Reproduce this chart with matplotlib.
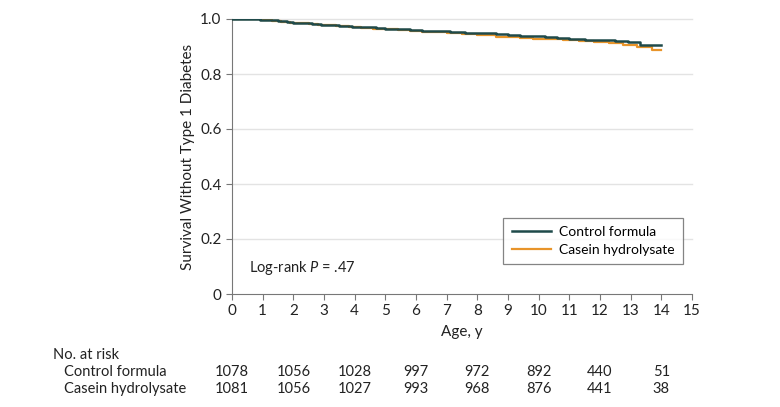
import numpy as np
import matplotlib
matplotlib.use('Agg')
import matplotlib.pyplot as plt

plt.rcParams['font.family'] = ['Lato', 'DejaVu Sans']
plt.rcParams['mathtext.fontset'] = 'custom'
plt.rcParams['mathtext.it'] = 'Lato:italic'
plt.rcParams['mathtext.rm'] = 'Lato'

# Kaplan-Meier step data (age in years, survival)
control_age = [0, 0.9, 1.2, 1.5, 1.8, 2.0, 2.3, 2.6, 2.9, 3.2, 3.5, 3.9, 4.3, 4.7, 5.0, 5.4, 5.8, 6.2, 6.7, 7.1, 7.6, 8.1, 8.6, 9.0,
               9.4, 9.8, 10.2, 10.6, 11.0, 11.5, 12.0, 12.5, 12.9, 13.3, 14.0]
control_surv = [1.0, 0.997, 0.995, 0.992, 0.99, 0.987, 0.985, 0.982, 0.979, 0.977, 0.975, 0.972, 0.970, 0.967, 0.964, 0.962, 0.960,
                0.957, 0.955, 0.952, 0.950, 0.948, 0.946, 0.943, 0.940, 0.937, 0.934, 0.931, 0.928, 0.925, 0.922, 0.920, 0.915, 0.905, 0.905]
casein_age = [0, 0.9, 1.3, 1.6, 1.9, 2.2, 2.5, 2.8, 3.1, 3.4, 3.8, 4.2, 4.6, 5.0, 5.4, 5.8, 6.2, 6.6, 7.0, 7.5, 8.0, 8.6, 9.0,
              9.4, 9.8, 10.3, 10.8, 11.3, 11.8, 12.3, 12.75, 13.2, 13.7, 14.0]
casein_surv = [1.0, 0.996, 0.993, 0.99, 0.987, 0.985, 0.982, 0.98, 0.977, 0.974, 0.971, 0.968, 0.965, 0.962, 0.959, 0.956, 0.954,
               0.951, 0.949, 0.946, 0.943, 0.936, 0.934, 0.931, 0.929, 0.926, 0.922, 0.919, 0.916, 0.913, 0.905, 0.900, 0.887, 0.887]

risk_ages = [0, 2, 4, 6, 8, 10, 12, 14]
risk_control = [1078, 1056, 1028, 997, 972, 892, 440, 51]
risk_casein = [1081, 1056, 1027, 993, 968, 876, 441, 38]

fig = plt.figure(figsize=(7.8, 4.07), dpi=100)
ax = fig.add_axes([232 / 780, 1 - 294 / 407, 460 / 780, 275 / 407])

ax.step(casein_age, casein_surv, where='post', color='#E8942A', lw=1.6, label='Casein hydrolysate', zorder=3)
ax.step(control_age, control_surv, where='post', color='#1F4A4A', lw=1.8, label='Control formula', zorder=4)

ax.set_xlim(0, 15)
ax.set_ylim(0, 1.0)
ax.set_xticks(range(16))
ax.set_yticks([0, 0.2, 0.4, 0.6, 0.8, 1.0])
ax.set_yticklabels(['0', '0.2', '0.4', '0.6', '0.8', '1.0'])
for y in [0.2, 0.4, 0.6, 0.8, 1.0]:
    ax.axhline(y, color='#E3E3E3', lw=1.0, zorder=1, clip_on=False)
ax.spines['top'].set_visible(False)
ax.spines['right'].set_visible(False)
for s in ['left', 'bottom']:
    ax.spines[s].set_color('#777777')
ax.tick_params(colors='#777777', labelcolor='#222222', labelsize=11, length=4)
ax.set_xlabel('Age, y', fontsize=11, color='#222222', labelpad=5)
ax.set_ylabel('Survival Without Type 1 Diabetes', fontsize=11, color='#222222', labelpad=4)

handles, labels = ax.get_legend_handles_labels()
leg = ax.legend(handles[::-1], labels[::-1], loc='lower right', bbox_to_anchor=(0.98, 0.109),
                borderaxespad=0, fontsize=10, frameon=True, fancybox=False, handlelength=2.8,
                borderpad=0.6, labelspacing=0.4, handletextpad=0.6)
leg.get_frame().set_edgecolor('#666666')
leg.get_frame().set_linewidth(0.9)

ax.text(0.55, 0.095, 'Log-rank $P$ = .47', fontsize=10.5, color='#222222', va='center')

# number at risk table
fig.text(53 / 780, 1 - 355 / 407, 'No. at risk', fontsize=10.5, color='#222222', va='center')
fig.text(64 / 780, 1 - 372 / 407, 'Control formula', fontsize=10.5, color='#222222', va='center')
fig.text(64 / 780, 1 - 389 / 407, 'Casein hydrolysate', fontsize=10.5, color='#222222', va='center')
inv = fig.transFigure.inverted()
for a, n1, n2 in zip(risk_ages, risk_control, risk_casein):
    xf = inv.transform(ax.transData.transform((a, 0)))[0]
    fig.text(xf, 1 - 372 / 407, str(n1), fontsize=10.5, color='#222222', ha='center', va='center')
    fig.text(xf, 1 - 389 / 407, str(n2), fontsize=10.5, color='#222222', ha='center', va='center')

fig.savefig('out.png', dpi=100)
